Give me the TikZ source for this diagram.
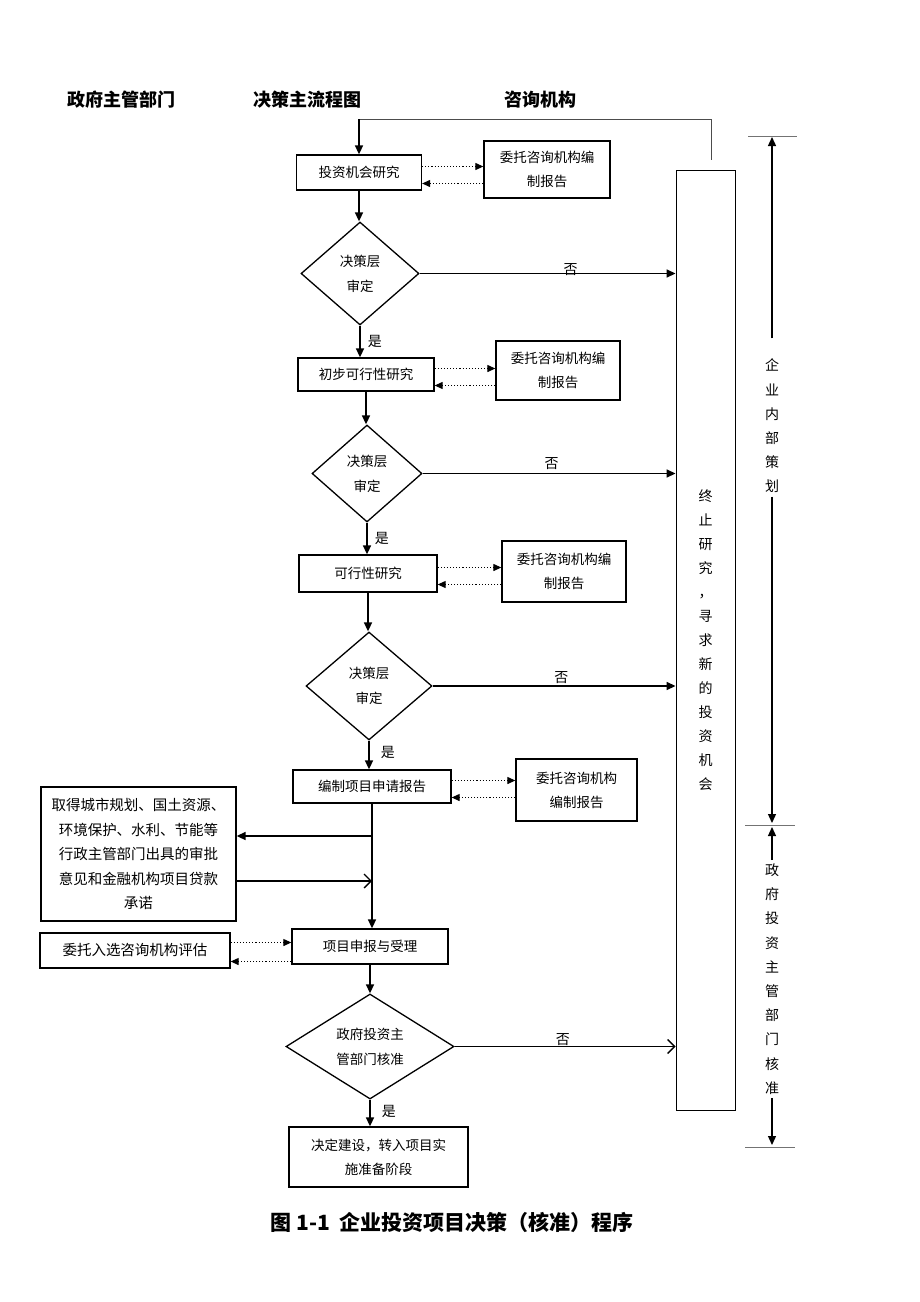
\documentclass[tikz,border=0pt]{standalone}
\usepackage{fontspec}
\setmainfont{Noto Sans CJK SC}
\usetikzlibrary{shapes.geometric, arrows.meta, positioning}
\newcommand\fsz[2]{\fontsize{#1}{#2}\selectfont}

\begin{document}
\begin{tikzpicture}[x=1pt, y=-1pt,
  stage/.style={draw, line width=1.3pt, inner sep=0pt, font=\fsz{13.5}{24}, align=center},
  consult/.style={draw, line width=1.3pt, inner sep=0pt, font=\fsz{13.5}{24}, align=center},
  check/.style={diamond, draw, line width=1.3pt, inner sep=0pt, font=\fsz{13.5}{25}, align=center},
  flow/.style={line width=1.6pt, -{Triangle[length=9pt, width=8pt]}},
  openflow/.style={line width=1.6pt, -{Straight Barb[length=7pt, width=14pt, line width=1.3pt]}},
  dots/.style={line width=1.1pt, dotted, -{Triangle[length=8pt, width=7pt]}},
  answer/.style={font=\fsz{14}{16}, inner sep=1pt},
  head/.style={font=\fsz{18}{20}\bfseries},
  limit/.style={line width=0.6pt, black!55},
  vtext/.style={font=\fsz{14}{24.2}, align=center}]

\useasboundingbox (0,0) rectangle (920,1302);

% column headers
\node[head] (hgov) at (121,100) {政府主管部门};
\node[head] (hmain) at (307,100) {决策主流程图};
\node[head] (hcon) at (540,100) {咨询机构};

% main flow
\node[stage, minimum width=125, minimum height=35] (invest) at (359,172.5) {投资机会研究};
\node[check, minimum width=118, minimum height=103] (d1) at (360,273.5) {决策层\\审定};
\node[stage, minimum width=136, minimum height=33] (prelim) at (366,374.5) {初步可行性研究};
\node[check, minimum width=110, minimum height=97] (d2) at (367,473.5) {决策层\\审定};
\node[stage, minimum width=138, minimum height=37] (feas) at (368,573.5) {可行性研究};
\node[check, minimum width=126, minimum height=108] (d3) at (369,686) {决策层\\审定};
\node[stage, minimum width=158, minimum height=33] (apply) at (372,786.5) {编制项目申请报告};
\node[stage, minimum width=156, minimum height=35] (submit) at (370,946.5) {项目申报与受理};
\node[check, minimum width=168, minimum height=99] (d4) at (370,1046.5) {政府投资主\\管部门核准};
\node[stage, minimum width=179, minimum height=60] (done) at (378.5,1157) {决定建设，转入项目实\\施准备阶段};

% consulting side
\node[consult, minimum width=126, minimum height=57] (c1) at (547,169.5) {委托咨询机构编\\制报告};
\node[consult, minimum width=124, minimum height=59] (c2) at (558,370.5) {委托咨询机构编\\制报告};
\node[consult, minimum width=124, minimum height=61] (c3) at (564,571.5) {委托咨询机构编\\制报告};
\node[consult, minimum width=121, minimum height=62] (c4) at (576.5,790) {委托咨询机构\\编制报告};

% government side
\node[stage, font=\fsz{14.5}{24.5}, minimum width=195, minimum height=134] (permit) at (138.5,854)
  {取得城市规划、国土资源、\\环境保护、水利、节能等\\行政主管部门出具的审批\\意见和金融机构项目贷款\\承诺};
\node[stage, font=\fsz{14.5}{24}, minimum width=190, minimum height=35] (assess) at (135,950.5) {委托入选咨询机构评估};

% stop box
\node[draw, line width=0.9pt, minimum width=59, minimum height=940, inner sep=0pt, font=\fsz{14}{24}, align=center]
  (term) at (705.5,640) {终\\止\\研\\究\\，\\寻\\求\\新\\的\\投\\资\\机\\会};

% main arrows
\draw[flow] (invest.south) -- (invest.south |- d1.north);
\draw[flow] (d1.south) -- (d1.south |- prelim.north) node[answer, midway, right=6pt] {是};
\draw[flow] (prelim.south) -- (prelim.south |- d2.north);
\draw[flow] (d2.south) -- (d2.south |- feas.north) node[answer, midway, right=6pt] {是};
\draw[flow] (feas.south) -- (feas.south |- d3.north);
\draw[flow] (d3.south) -- (d3.south |- apply.north) node[answer, pos=0.4, right=10pt] {是};
\draw[flow] (apply.south) -- (apply.south |- submit.north);
\draw[flow] (submit.south) -- (submit.south |- d4.north);
\draw[flow] (d4.south) -- (d4.south |- done.north) node[answer, pos=0.45, right=10pt] {是};

% rejections
\draw[flow] (d1.east) -- (d1.east -| term.west) node[answer, pos=0.59, yshift=4pt] {否};
\draw[flow] (d2.east) -- (d2.east -| term.west) node[answer, pos=0.51, yshift=10pt] {否};
\draw[flow] (d3.east) -- (d3.east -| term.west) node[answer, pos=0.53, yshift=8pt] {否};
\draw[openflow] (d4.east) -- (d4.east -| term.west) node[answer, pos=0.49, yshift=7pt] {否};

% back to the start
\path ([yshift=35pt]invest.north) coordinate (loopturn);
\draw[line width=0.8pt, black!70] ([xshift=5.5pt, yshift=10pt]term.north) |- (loopturn);
\draw[flow] (loopturn) -- (invest.north);

% consulting exchanges
\foreach \s/\c in {invest/c1, prelim/c2, feas/c3, apply/c4} {
  \draw[dots] ([yshift=6pt]\s.east) -- ([yshift=6pt]\s.east -| \c.west);
  \draw[dots] ([yshift=-11pt]\s.east -| \c.west) -- ([yshift=-11pt]\s.east);
}
\draw[dots] ([yshift=8pt]assess.east) -- ([yshift=8pt]assess.east -| submit.west);
\draw[dots] ([yshift=-11pt]assess.east -| submit.west) -- ([yshift=-11pt]assess.east);

% approvals
\coordinate (pin) at ([yshift=18pt]permit.east);
\coordinate (pout) at ([yshift=-27pt]permit.east);
\draw[flow] (apply.south |- pin) -- (pin);
\draw[openflow] (pout) -- (apply.south |- pout);

% stage marks on the right
\coordinate (m1) at (772,136);
\coordinate (m2) at (772,825);
\coordinate (m3) at (772,1147);
\draw[limit] ([xshift=-24pt]m1) -- ([xshift=25pt]m1);
\draw[limit] ([xshift=-27pt]m2) -- ([xshift=23pt]m2);
\draw[limit] ([xshift=-27pt]m3) -- ([xshift=23pt]m3);
\node[vtext] (plan) at (772,426) {企\\业\\内\\部\\策\\划};
\node[vtext] (gov) at (772,979) {政\\府\\投\\资\\主\\管\\部\\门\\核\\准};
\draw[flow, line width=1.3pt, shorten <=17pt] (plan.north) -- ([yshift=-1pt]m1);
\draw[flow, line width=1.3pt] (plan.south) -- ([yshift=2pt]m2);
\draw[flow, line width=1.3pt] (gov.north) -- ([yshift=-2pt]m2);
\draw[flow, line width=1.3pt] (gov.south) -- ([yshift=2pt]m3);

% caption
\node[font=\fsz{21}{24}\bfseries] (caption) at (452,1222) {图 1-1\ \ 企业投资项目决策（核准）程序};
\end{tikzpicture}
\end{document}
